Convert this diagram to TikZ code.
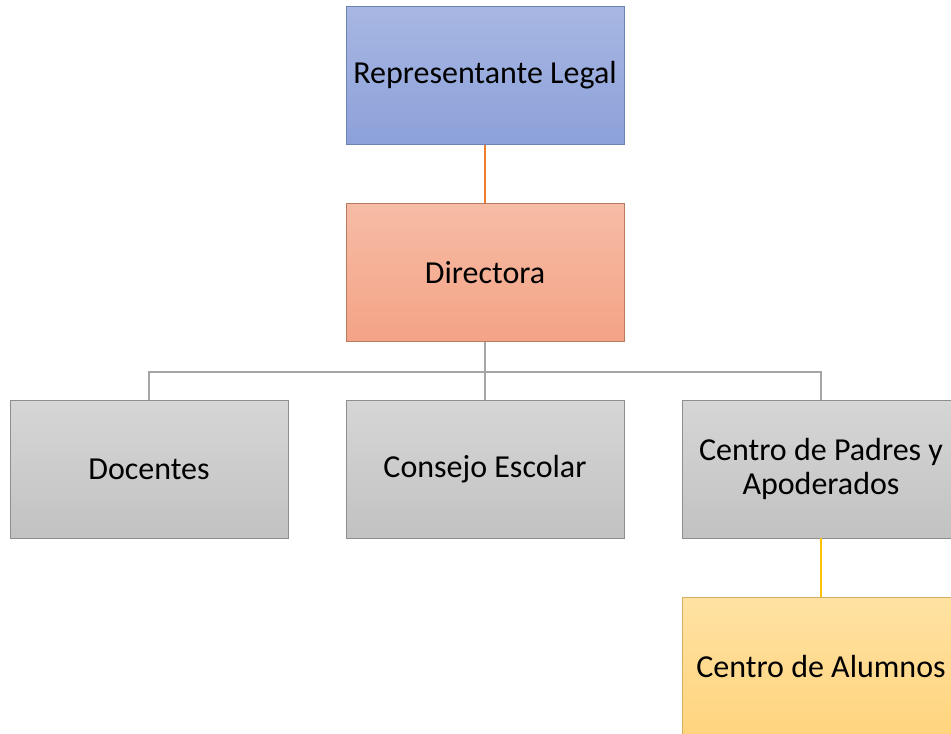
\documentclass[tikz,border=0pt]{standalone}
\usepackage{fontspec}
\setmainfont{Carlito}
\definecolor{bluetop}{HTML}{A8B7E2}
\definecolor{bluebot}{HTML}{8CA1DA}
\definecolor{blueln}{HTML}{6F82B5}
\definecolor{saltop}{HTML}{F6BCA5}
\definecolor{salbot}{HTML}{F4A386}
\definecolor{salln}{HTML}{B97A62}
\definecolor{greytop}{HTML}{D6D6D6}
\definecolor{greybot}{HTML}{C2C2C2}
\definecolor{greyln}{HTML}{8E8E8E}
\definecolor{yeltop}{HTML}{FFE2A2}
\definecolor{yelbot}{HTML}{FFD47E}
\definecolor{yelln}{HTML}{D4AE62}
\definecolor{conorange}{HTML}{ED7D31}
\definecolor{congrey}{HTML}{A5A5A5}
\definecolor{conyellow}{HTML}{FFC000}
\begin{document}
\begin{tikzpicture}[x=1pt,y=-1pt,
  box/.style={rectangle, minimum width=278pt, minimum height=138pt, inner sep=0pt,
    align=center, font=\fontsize{32}{34}\selectfont, line width=0.8pt},
  bluebox/.style={box, top color=bluetop, bottom color=bluebot, draw=blueln},
  salbox/.style={box, top color=saltop, bottom color=salbot, draw=salln},
  greybox/.style={box, top color=greytop, bottom color=greybot, draw=greyln},
  yelbox/.style={box, top color=yeltop, bottom color=yelbot, draw=yelln},
  conn/.style={line width=2pt}]
\useasboundingbox (0,0) rectangle (951,734);
\clip (0,0) rectangle (951,734);
\node[bluebox] (rep) at (485,75.5) {Representante Legal};
\node[salbox] (dir) at (485,272.5) {Directora};
\node[greybox] (doc) at (149,469) {Docentes};
\node[greybox] (cons) at (485,469) {Consejo Escolar};
\node[greybox] (pad) at (821,469) {Centro de Padres y\\Apoderados};
\node[yelbox] (alu) at (821,666) {Centro de Alumnos};
\coordinate (bus) at (485,372);
\draw[conn, conorange] (rep.south) -- (dir.north);
\draw[conn, congrey] (dir.south) -- (cons.north);
\draw[conn, congrey] (doc.north) |- (bus) -| (pad.north);
\draw[conn, conyellow] (pad.south) -- (alu.north);
\end{tikzpicture}
\end{document}
